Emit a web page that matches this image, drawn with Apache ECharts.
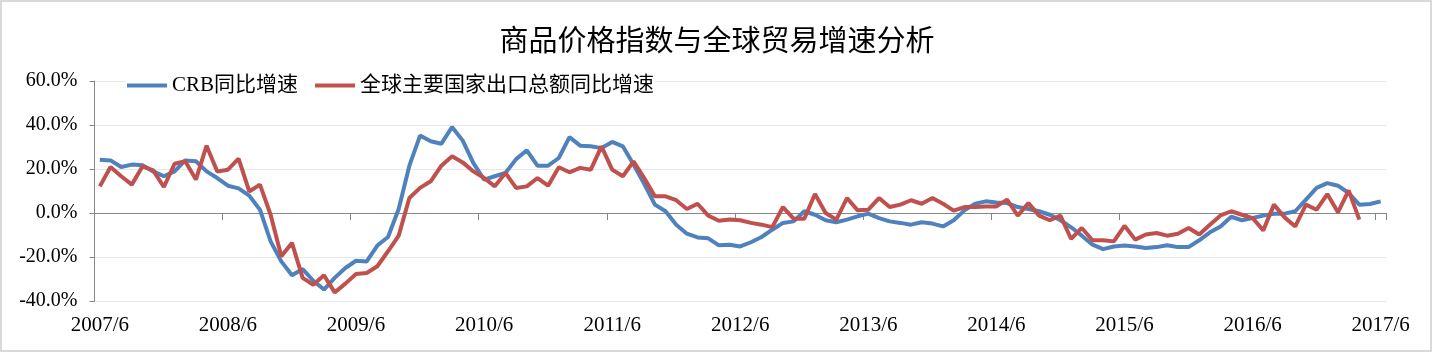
<!DOCTYPE html>
<html>
<head>
<meta charset="utf-8">
<script src="https://cdn.jsdelivr.net/npm/echarts@6/dist/echarts.min.js"></script>
<style>
  body { margin: 0; background: #fff; }
  #chart { width: 1434px; height: 354px; }
</style>
</head>
<body>
<div id="chart"></div>
<script>
// 月度类目：2007/6 ~ 2017/6
const months = [];
for (let y = 2007, m = 6; y < 2017 || (y === 2017 && m <= 6); m++) {
  if (m > 12) { m = 1; y++; }
  months.push(y + '/' + m);
}

const seriesNames = ['CRB同比增速', '全球主要国家出口总额同比增速'];

// CRB同比增速 (%), 2007/6 - 2017/6
const crbGrowth = [
  24.2, 23.9, 20.9, 22.0, 21.7, 18.9, 16.7, 18.9, 23.9, 23.5, 18.9, 15.9, 12.4, 11.2, 7.9,
  1.5, -12.9, -22.0, -28.3, -25.5, -30.8, -34.8, -29.5, -25.0, -21.7, -22.0, -14.8, -10.9, 1.8, 21.5,
  35.2, 32.6, 31.5, 39.1, 32.9, 22.7, 15.2, 16.7, 18.2, 24.5, 28.5, 21.5, 21.5, 25.0, 34.5,
  30.6, 30.3, 29.5, 32.3, 30.3, 22.0, 13.3, 3.8, 0.8, -5.3, -9.4, -11.1, -11.5, -14.7, -14.4,
  -15.2, -13.3, -10.9, -7.6, -4.5, -3.8, 0.8, -0.8, -3.3, -4.2, -3.0, -1.5, -0.3, -2.3, -3.8,
  -4.5, -5.3, -4.2, -4.8, -6.1, -3.3, 1.2, 4.2, 5.3, 4.8, 4.5, 2.7, 1.8, 0.8, -0.8,
  -3.3, -6.5, -10.3, -14.4, -16.4, -15.2, -14.8, -15.2, -15.9, -15.5, -14.7, -15.5, -15.5, -12.4, -8.8,
  -6.1, -1.7, -3.3, -2.3, -1.2, -0.3, -0.3, 0.8, 6.1, 11.4, 13.6, 12.4, 9.1, 3.8, 4.1, 5.3
];

// 全球主要国家出口总额同比增速 (%), 2007/6 - 2017/4
const exportGrowth = [
  12.1, 20.9, 16.7, 12.9, 21.2, 19.4, 11.8, 22.4, 23.5, 15.2, 30.6, 18.9, 19.7, 24.7, 9.8,
  12.9, -0.8, -19.7, -13.6, -29.5, -32.6, -28.3, -36.1, -32.1, -27.7, -27.3, -24.2, -17.4, -10.3, 6.8,
  11.4, 14.4, 21.5, 25.8, 23.0, 18.9, 15.9, 12.1, 18.2, 11.4, 12.1, 15.9, 12.4, 20.8, 18.5,
  20.5, 19.7, 30.3, 19.7, 16.7, 23.5, 15.9, 7.6, 7.6, 5.8, 1.8, 4.2, -1.2, -3.5, -3.0,
  -3.3, -4.5, -5.3, -6.4, 2.7, -2.6, -2.6, 8.6, 0.0, -3.0, 6.8, 1.2, 1.5, 6.8, 2.7,
  3.8, 5.8, 4.2, 6.8, 4.2, 1.1, 2.7, 2.7, 3.0, 3.0, 6.1, -1.2, 4.5, -1.2, -3.3,
  -1.2, -11.8, -6.8, -12.4, -12.4, -12.9, -5.8, -12.1, -9.8, -9.1, -10.3, -9.4, -6.8, -9.8, -5.3,
  -1.1, 0.8, -0.8, -2.3, -7.9, 3.8, -2.0, -6.1, 3.8, 1.5, 8.6, 0.3, 10.3, -3.0
];

const serifFont = '"Liberation Serif", "Noto Sans CJK SC", serif';

const myChart = echarts.init(document.getElementById('chart'));
myChart.setOption({
  animation: false,
  backgroundColor: '#fff',
  color: ['#4F81BD', '#C0504D'],
  title: {
    text: '商品价格指数与全球贸易增速分析',
    left: 'center',
    top: 20,
    textStyle: {
      fontSize: 29,
      fontWeight: 'normal',
      color: '#000',
      fontFamily: '"Noto Sans CJK SC", sans-serif'
    }
  },
  legend: {
    data: seriesNames,
    left: 125,
    top: 73,
    icon: 'rect',
    itemWidth: 40,
    itemHeight: 4,
    itemGap: 17,
    padding: [2, 2, 2, 2],
    backgroundColor: '#fff',
    textStyle: { fontSize: 21, color: '#000', fontFamily: serifFont }
  },
  grid: {
    left: 94.5,
    right: 48,
    top: 81,
    bottom: 53,
    containLabel: false,
    outerBoundsMode: 'none'
  },
  xAxis: [
    {
      type: 'category',
      data: months,
      boundaryGap: true,
      axisLine: { onZero: true, lineStyle: { color: '#868686', width: 1 } },
      axisTick: { show: true, interval: 11, length: 7, lineStyle: { color: '#868686' } },
      axisLabel: { show: false },
      splitLine: { show: false }
    },
    {
      type: 'category',
      data: months,
      position: 'bottom',
      boundaryGap: true,
      axisLine: { show: false, onZero: false },
      axisTick: { show: false },
      axisLabel: {
        interval: 11,
        margin: 14,
        fontSize: 21,
        color: '#000',
        fontFamily: serifFont
      },
      splitLine: { show: false }
    }
  ],
  yAxis: {
    type: 'value',
    min: -40,
    max: 60,
    interval: 20,
    axisLine: { show: true, lineStyle: { color: '#868686' } },
    axisTick: { show: true, length: 5, lineStyle: { color: '#868686' } },
    axisLabel: {
      formatter: v => v.toFixed(1) + '%',
      margin: 17,
      fontSize: 20,
      color: '#000',
      fontFamily: serifFont
    },
    splitLine: { lineStyle: { color: '#cfcfcf', type: 'dotted', width: 1 } }
  },
  graphic: [{
    type: 'rect',
    shape: { x: 1, y: 1, width: 1430, height: 350 },
    style: { fill: null, stroke: '#d9d9d9', lineWidth: 2 },
    silent: true
  }],
  series: [
    {
      name: seriesNames[0],
      type: 'line',
      data: crbGrowth,
      symbol: 'none',
      lineStyle: { width: 4 }
    },
    {
      name: seriesNames[1],
      type: 'line',
      data: exportGrowth,
      symbol: 'none',
      lineStyle: { width: 4 }
    }
  ]
});
</script>
</body>
</html>
